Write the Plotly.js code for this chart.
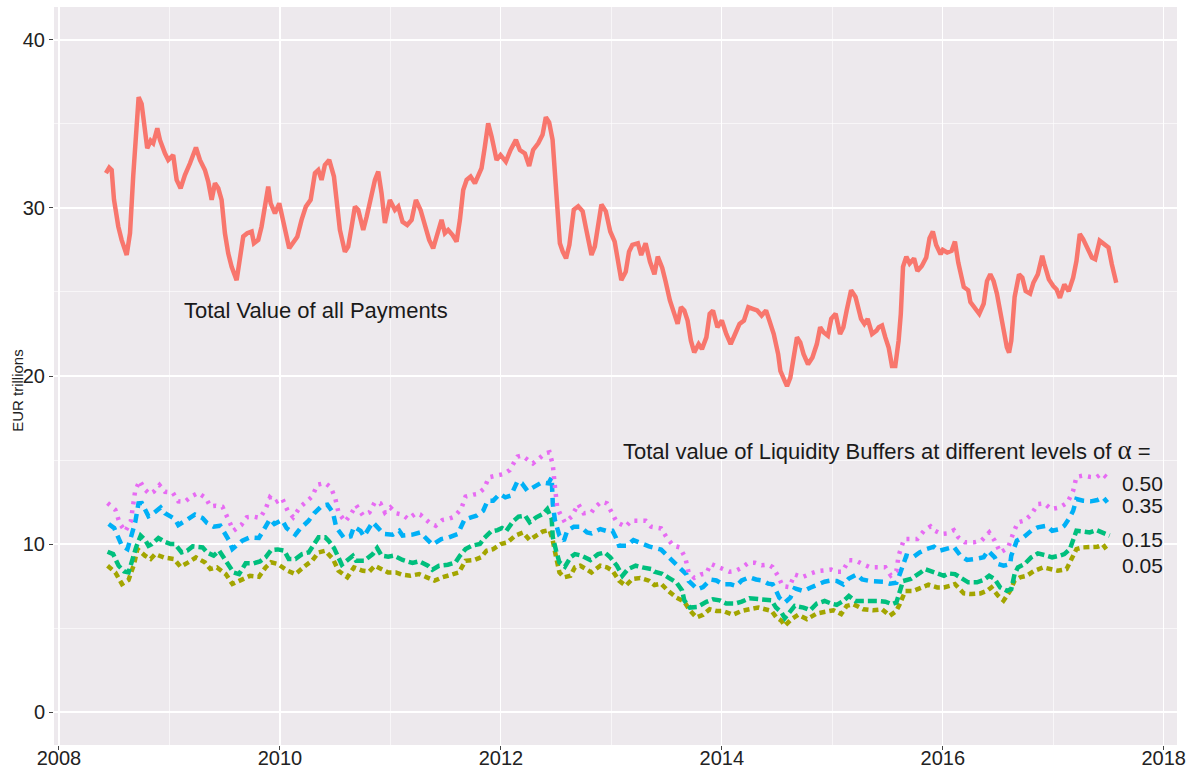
<!DOCTYPE html>
<html>
<head>
<meta charset="utf-8">
<script src="https://cdn.plot.ly/plotly-3.0.1.min.js"></script>
<style>html,body{margin:0;padding:0;background:#fff;}#chart{width:1188px;height:769px;}</style>
</head>
<body>
<div id="chart"></div>
<script>
// ---- DATA (decimal years, EUR trillions) ----
const totalYears = [2008.425,2008.455,2008.477,2008.498,2008.537,2008.567,2008.613,2008.643,2008.672,2008.697,2008.721,2008.748,2008.778,2008.799,2008.830,2008.853,2008.890,2008.914,2008.959,2008.989,2009.034,2009.065,2009.101,2009.140,2009.186,2009.240,2009.276,2009.321,2009.351,2009.382,2009.412,2009.442,2009.472,2009.502,2009.532,2009.563,2009.608,2009.638,2009.668,2009.704,2009.744,2009.765,2009.804,2009.834,2009.864,2009.894,2009.916,2009.955,2009.994,2010.024,2010.054,2010.084,2010.120,2010.157,2010.196,2010.235,2010.278,2010.317,2010.347,2010.377,2010.407,2010.446,2010.489,2010.513,2010.543,2010.588,2010.618,2010.649,2010.679,2010.709,2010.754,2010.785,2010.830,2010.860,2010.890,2010.920,2010.950,2010.995,2011.041,2011.071,2011.110,2011.152,2011.192,2011.231,2011.273,2011.312,2011.351,2011.387,2011.424,2011.463,2011.493,2011.523,2011.563,2011.599,2011.629,2011.659,2011.690,2011.726,2011.765,2011.795,2011.825,2011.855,2011.885,2011.916,2011.961,2011.997,2012.045,2012.088,2012.136,2012.172,2012.217,2012.256,2012.292,2012.338,2012.377,2012.407,2012.437,2012.468,2012.504,2012.534,
2012.56,2012.59,2012.62,2012.66,2012.70,2012.74,2012.77,2012.79,2012.82,2012.85,2012.88,2012.91,2012.95,2012.99,2013.03,2013.06,2013.09,2013.13,2013.16,2013.19,2013.24,2013.27,2013.31,2013.35,2013.39,2013.42,2013.46,2013.49,2013.53,2013.57,2013.60,2013.63,2013.66,2013.69,2013.72,2013.75,2013.79,2013.82,2013.86,2013.89,2013.92,2013.96,2014.00,2014.04,2014.08,2014.12,2014.16,2014.20,2014.24,2014.28,2014.32,2014.36,2014.40,2014.43,2014.47,2014.51,2014.53,2014.57,2014.59,2014.62,2014.65,2014.68,2014.71,2014.74,2014.78,2014.82,2014.86,2014.89,2014.92,2014.96,2014.99,2015.03,2015.07,2015.10,2015.13,2015.17,2015.21,2015.24,2015.26,2015.29,2015.32,2015.36,2015.40,2015.42,2015.45,2015.48,2015.51,2015.54,2015.57,2015.60,2015.62,2015.64,2015.67,2015.70,2015.74,2015.77,2015.81,2015.85,2015.88,2015.91,2015.94,2015.98,2016.00,2016.04,2016.08,2016.11,2016.14,2016.19,2016.23,2016.25,2016.29,2016.33,2016.37,2016.40,2016.43,2016.46,2016.49,2016.52,2016.55,2016.58,2016.60,2016.62,2016.65,2016.69,2016.72,2016.75,2016.79,2016.82,2016.86,2016.90,2016.92,2016.96,2017.00,2017.03,2017.06,2017.10,2017.14,2017.18,2017.21,2017.24,2017.27,2017.31,2017.35,2017.38,2017.42,2017.46,2017.50,2017.53,2017.56,2017.57];
const totalValues = [32.07,32.4,32.26,30.5,28.9,28.1,27.2,28.5,31.9,34.8,36.6,36.2,34.8,33.55,34.0,33.85,34.74,34.05,33.25,32.86,33.15,31.67,31.17,31.96,32.66,33.6,32.86,32.26,31.57,30.48,31.47,31.17,30.48,28.5,27.3,26.5,25.7,26.9,28.3,28.5,28.6,27.9,28.1,28.9,30.3,31.27,30.28,29.68,30.28,29.48,28.5,27.6,28.0,28.29,29.29,30.08,30.48,32.07,32.26,31.67,32.56,32.86,31.87,30.28,28.69,27.4,27.7,28.89,30.08,29.88,28.69,29.48,30.67,31.67,32.16,30.87,29.1,30.48,29.88,30.08,29.18,28.99,29.29,30.48,29.88,29.09,28.1,27.6,28.5,29.29,28.5,28.69,28.39,28.0,29.29,31.07,31.67,31.87,31.47,31.87,32.37,33.65,35.04,34.25,32.86,33.15,32.76,33.45,34.05,33.45,33.25,32.5,33.45,33.85,34.35,35.4,35.1,34.05,30.87,27.9,
27.4,27.0,27.8,29.9,30.1,29.8,28.8,28.0,27.2,27.7,28.8,30.2,29.8,28.6,28.0,27.0,25.7,26.2,27.4,27.8,27.9,27.2,27.9,26.8,26.05,27.1,26.45,25.65,24.5,23.7,23.1,24.1,23.9,23.3,22.1,21.4,21.9,21.6,22.3,23.7,23.9,22.9,23.3,22.5,21.9,22.5,23.1,23.3,24.1,24.0,23.9,23.6,23.9,23.3,22.5,21.3,20.3,19.7,19.4,19.9,21.3,22.3,22.0,21.3,20.7,21.1,21.9,22.9,22.6,22.4,23.4,23.7,22.5,22.9,23.9,25.1,24.7,23.9,23.4,23.1,23.4,22.5,22.7,22.9,23.0,22.3,21.7,20.6,20.6,22.1,23.7,26.5,27.1,26.7,27.0,26.25,26.55,27.05,28.2,28.6,27.8,27.25,27.5,27.35,27.45,28.0,26.75,25.3,25.1,24.4,24.1,23.7,24.3,25.65,26.05,25.65,24.9,23.7,22.5,21.7,21.4,22.1,24.7,26.05,25.85,25.05,24.9,25.55,26.05,27.15,26.65,25.75,25.35,25.15,24.65,25.45,25.05,25.85,26.85,28.45,28.15,27.65,27.05,26.95,28.05,27.85,27.65,26.65,25.95,25.55];

const a050Years = [2008.44,2008.51,2008.55,2008.60,2008.65,2008.69,2008.73,2008.78,2008.82,2008.86,2008.91,2008.96,2009.03,2009.08,2009.14,2009.20,2009.26,2009.33,2009.37,2009.42,2009.48,2009.53,2009.58,2009.65,2009.70,2009.76,2009.82,2009.87,2009.91,2009.96,2010.02,2010.07,2010.12,2010.18,2010.24,2010.29,2010.34,2010.41,2010.46,2010.50,2010.53,2010.59,2010.64,2010.69,2010.75,2010.81,2010.86,2010.91,2010.95,2011.00,2011.05,2011.11,2011.16,2011.23,2011.27,2011.35,2011.41,2011.47,2011.52,2011.58,2011.64,2011.68,2011.75,2011.79,2011.85,2011.89,2011.96,2012.03,2012.08,2012.15,2012.19,2012.24,2012.29,2012.34,2012.40,2012.44,2012.47,2012.49,2012.51,2012.53,2012.58,2012.64,2012.70,2012.75,2012.82,2012.85,2012.91,2012.96,2013.00,2013.05,2013.13,2013.18,2013.25,2013.31,2013.36,2013.40,2013.45,2013.50,2013.56,2013.62,2013.67,2013.70,2013.75,2013.81,2013.86,2013.90,2013.95,2014.01,2014.07,2014.12,2014.18,2014.24,2014.30,2014.36,2014.42,2014.46,2014.51,2014.55,2014.61,2014.66,2014.73,2014.80,2014.87,2014.93,2014.99,2015.04,2015.09,2015.15,2015.21,2015.27,2015.34,2015.40,2015.48,2015.53,2015.58,2015.60,2015.65,2015.71,2015.77,2015.83,2015.89,2015.93,2015.99,2016.04,2016.10,2016.14,2016.20,2016.28,2016.35,2016.42,2016.47,2016.52,2016.59,2016.64,2016.68,2016.74,2016.80,2016.86,2016.92,2016.98,2017.06,2017.13,2017.18,2017.21,2017.27,2017.33,2017.39,2017.44,2017.50];
const a050Values = [12.44,12.04,11.23,10.75,11.35,13.17,13.77,13.23,12.98,13.13,13.51,13.11,13.06,12.54,12.52,12.84,13.04,12.74,12.24,12.28,12.22,11.49,10.79,11.13,11.59,11.63,11.55,12.08,12.78,12.48,12.72,11.98,11.59,12.18,12.52,12.82,13.53,13.63,13.37,12.74,11.88,11.33,11.75,12.32,11.71,11.88,12.50,12.42,11.88,12.18,11.83,11.75,11.49,11.83,11.75,11.29,11.09,11.43,11.49,11.63,12.08,12.82,12.94,12.98,13.31,13.97,14.07,14.17,14.40,15.20,15.26,15.02,14.80,15.06,15.40,15.46,14.72,13.37,12.18,11.88,11.29,11.63,12.38,11.83,11.88,12.18,12.52,12.42,11.94,11.29,11.03,11.39,11.39,11.39,11.03,10.99,10.93,10.40,9.90,9.80,9.17,8.29,7.99,8.19,8.25,8.82,8.68,8.58,8.35,8.39,8.58,8.88,8.88,8.74,8.78,8.62,8.09,7.50,7.44,8.19,8.03,8.23,8.39,8.43,8.48,8.35,8.35,9.04,9.02,8.82,8.62,8.62,8.62,8.13,8.39,9.31,10.30,10.30,10.30,10.79,11.05,10.79,10.60,10.63,10.83,10.40,10.10,10.10,10.20,10.69,10.20,9.50,9.76,10.69,11.29,11.39,11.75,12.38,12.42,12.08,12.18,12.48,13.17,14.00,14.07,14.00,13.97,14.20,13.87];

const a035Years = [2008.45,2008.50,2008.57,2008.62,2008.66,2008.69,2008.72,2008.75,2008.81,2008.84,2008.92,2008.96,2009.05,2009.08,2009.16,2009.23,2009.30,2009.34,2009.40,2009.46,2009.54,2009.57,2009.66,2009.73,2009.81,2009.84,2009.91,2009.95,2010.02,2010.06,2010.14,2010.18,2010.26,2010.31,2010.38,2010.43,2010.48,2010.51,2010.58,2010.64,2010.67,2010.73,2010.76,2010.84,2010.94,2011.02,2011.08,2011.11,2011.20,2011.27,2011.33,2011.38,2011.46,2011.53,2011.61,2011.67,2011.73,2011.78,2011.84,2011.88,2011.93,2011.99,2012.04,2012.09,2012.15,2012.19,2012.24,2012.31,2012.37,2012.43,2012.46,2012.47,2012.49,2012.53,2012.57,2012.60,2012.66,2012.72,2012.78,2012.82,2012.90,2012.95,2013.01,2013.04,2013.07,2013.14,2013.20,2013.25,2013.34,2013.45,2013.49,2013.57,2013.60,2013.68,2013.70,2013.78,2013.83,2013.90,2013.95,2014.01,2014.08,2014.13,2014.18,2014.25,2014.31,2014.37,2014.42,2014.46,2014.49,2014.52,2014.57,2014.62,2014.66,2014.74,2014.80,2014.87,2014.93,2014.99,2015.04,2015.10,2015.15,2015.22,2015.27,2015.34,2015.40,2015.46,2015.52,2015.58,2015.61,2015.64,2015.67,2015.73,2015.79,2015.85,2015.92,2015.97,2016.04,2016.10,2016.16,2016.22,2016.29,2016.37,2016.41,2016.47,2016.50,2016.55,2016.61,2016.62,2016.67,2016.73,2016.80,2016.86,2016.94,2016.99,2017.06,2017.10,2017.15,2017.18,2017.21,2017.27,2017.34,2017.40,2017.45,2017.49];
const a035Values = [11.19,10.95,9.90,9.70,10.60,11.29,12.42,12.44,11.65,11.75,12.18,11.83,11.49,11.13,11.45,11.75,11.55,11.25,11.03,11.09,10.20,9.70,10.20,10.40,10.36,10.69,11.49,11.19,11.43,10.95,10.56,10.89,11.39,11.83,12.28,12.34,11.88,10.99,10.36,10.46,11.03,10.79,10.46,11.30,10.60,10.56,10.79,10.50,10.56,10.69,10.24,9.96,10.30,10.40,10.60,11.45,11.59,11.69,11.98,12.58,12.58,12.98,12.78,12.88,13.73,13.61,13.17,13.47,13.67,13.61,13.97,12.38,11.39,10.50,10.20,10.79,11.03,11.03,10.69,10.63,10.89,10.79,10.79,10.40,9.90,9.90,10.24,10.10,9.86,9.67,9.41,8.94,8.68,8.19,7.80,7.30,7.44,7.89,7.83,7.60,7.60,7.50,7.83,8.03,7.89,7.83,7.64,7.60,7.24,6.81,6.52,6.81,7.36,7.20,7.40,7.60,7.76,7.83,7.80,7.60,7.95,8.19,7.89,7.80,7.76,7.76,7.64,7.70,8.19,8.71,9.31,9.21,9.50,9.70,9.84,9.60,9.70,9.84,9.31,9.05,9.11,9.21,9.60,9.21,8.81,8.71,8.81,9.31,10.20,10.40,10.79,10.99,11.09,10.79,10.89,11.09,11.59,11.98,12.68,12.58,12.54,12.62,12.78,12.48];

const a015Years = [2008.44,2008.49,2008.54,2008.59,2008.63,2008.66,2008.70,2008.74,2008.78,2008.81,2008.84,2008.90,2008.95,2009.01,2009.05,2009.11,2009.16,2009.21,2009.30,2009.34,2009.40,2009.45,2009.49,2009.54,2009.58,2009.63,2009.69,2009.76,2009.82,2009.87,2009.92,2009.98,2010.04,2010.08,2010.14,2010.20,2010.26,2010.30,2010.35,2010.41,2010.44,2010.49,2010.53,2010.56,2010.66,2010.69,2010.76,2010.84,2010.88,2010.92,2010.98,2011.03,2011.11,2011.20,2011.26,2011.34,2011.38,2011.44,2011.52,2011.59,2011.63,2011.68,2011.74,2011.81,2011.85,2011.91,2011.97,2012.01,2012.05,2012.11,2012.16,2012.22,2012.26,2012.32,2012.38,2012.42,2012.46,2012.47,2012.50,2012.53,2012.58,2012.63,2012.67,2012.73,2012.81,2012.88,2012.94,2012.99,2013.05,2013.10,2013.15,2013.22,2013.28,2013.36,2013.39,2013.46,2013.52,2013.59,2013.64,2013.66,2013.71,2013.78,2013.86,2013.92,2013.98,2014.04,2014.12,2014.18,2014.25,2014.33,2014.39,2014.45,2014.49,2014.54,2014.57,2014.62,2014.66,2014.74,2014.80,2014.86,2014.93,2014.99,2015.04,2015.10,2015.15,2015.21,2015.28,2015.36,2015.42,2015.48,2015.54,2015.58,2015.61,2015.64,2015.71,2015.75,2015.80,2015.84,2015.89,2015.95,2016.01,2016.05,2016.11,2016.16,2016.23,2016.31,2016.37,2016.42,2016.47,2016.52,2016.58,2016.62,2016.65,2016.68,2016.74,2016.80,2016.86,2016.94,2016.99,2017.06,2017.10,2017.15,2017.18,2017.21,2017.27,2017.33,2017.39,2017.45,2017.51];
const a015Values = [9.54,9.40,8.71,8.37,8.31,9.00,9.84,10.50,10.24,9.90,10.00,10.36,10.16,10.00,10.00,9.50,9.60,9.86,9.80,9.50,9.31,9.60,9.17,8.65,8.31,8.21,8.85,8.85,8.97,9.21,9.64,9.68,9.60,9.11,9.11,9.40,9.50,9.90,10.40,10.40,10.20,9.76,9.11,8.77,9.30,9.00,9.00,9.40,9.76,9.31,9.25,9.31,9.05,8.87,8.97,8.71,8.47,8.71,8.77,8.91,9.31,9.70,9.90,10.00,10.36,10.75,10.83,10.95,10.79,11.35,11.63,11.69,11.29,11.59,11.79,12.08,11.49,10.40,9.60,8.91,8.65,9.21,9.40,9.31,9.05,9.40,9.50,9.21,8.71,8.11,8.51,8.71,8.61,8.51,8.35,8.23,7.99,7.70,7.24,6.65,6.22,6.26,6.56,6.71,6.65,6.46,6.46,6.57,6.77,6.71,6.65,6.65,6.22,5.93,5.59,6.02,6.32,6.22,6.06,6.46,6.61,6.46,6.38,6.61,6.91,6.61,6.61,6.65,6.61,6.57,6.42,6.52,7.20,7.80,7.92,8.06,8.31,8.51,8.37,8.25,8.11,8.25,8.21,8.02,7.72,7.72,7.86,8.11,7.92,7.42,7.22,7.32,8.21,8.61,8.81,9.21,9.44,9.31,9.21,9.31,9.40,9.70,10.20,10.79,10.75,10.69,10.83,10.69,10.50];

const a005Years = [2008.44,2008.51,2008.57,2008.63,2008.68,2008.71,2008.78,2008.83,2008.87,2008.95,2009.04,2009.10,2009.17,2009.24,2009.32,2009.37,2009.43,2009.51,2009.57,2009.66,2009.73,2009.81,2009.87,2009.92,2009.98,2010.07,2010.14,2010.23,2010.29,2010.35,2010.41,2010.48,2010.53,2010.61,2010.67,2010.75,2010.81,2010.86,2010.92,2010.98,2011.05,2011.11,2011.18,2011.26,2011.33,2011.40,2011.47,2011.55,2011.62,2011.68,2011.76,2011.82,2011.87,2011.93,2012.00,2012.06,2012.13,2012.20,2012.26,2012.32,2012.38,2012.44,2012.47,2012.50,2012.53,2012.57,2012.63,2012.67,2012.72,2012.82,2012.90,2012.96,2013.01,2013.07,2013.13,2013.19,2013.26,2013.34,2013.39,2013.45,2013.51,2013.59,2013.66,2013.71,2013.77,2013.83,2013.89,2013.95,2014.01,2014.10,2014.18,2014.25,2014.33,2014.39,2014.45,2014.49,2014.54,2014.57,2014.63,2014.69,2014.77,2014.86,2014.93,2015.01,2015.08,2015.13,2015.19,2015.28,2015.37,2015.45,2015.52,2015.58,2015.61,2015.66,2015.73,2015.81,2015.87,2015.95,2016.01,2016.07,2016.11,2016.19,2016.26,2016.34,2016.40,2016.44,2016.50,2016.55,2016.61,2016.65,2016.70,2016.76,2016.83,2016.91,2016.97,2017.04,2017.12,2017.16,2017.21,2017.27,2017.34,2017.40,2017.45,2017.48];
const a005Values = [8.71,8.31,7.62,7.86,8.81,9.70,9.30,9.11,9.40,9.20,9.11,8.65,8.91,9.20,8.91,8.51,8.61,8.21,7.62,7.92,8.11,8.05,8.61,8.91,8.81,8.41,8.21,8.71,9.00,9.50,9.60,9.11,8.41,8.02,8.61,8.41,8.37,8.71,8.51,8.31,8.31,8.17,8.11,8.21,8.02,7.82,8.02,8.17,8.31,9.00,9.05,9.21,9.60,9.70,10.00,10.10,10.50,10.69,10.24,10.50,10.75,10.83,10.20,9.21,8.31,8.02,8.11,8.61,8.71,8.31,8.71,8.61,8.41,7.82,7.52,7.92,7.98,7.82,7.56,7.64,7.24,6.81,6.57,6.06,5.63,5.79,6.12,6.02,6.02,5.79,6.02,6.12,6.22,6.12,6.02,5.67,5.43,5.14,5.53,5.79,5.53,5.87,5.93,6.06,5.83,6.32,6.42,6.12,6.06,6.12,5.73,6.02,6.42,7.20,7.20,7.42,7.58,7.42,7.42,7.52,7.62,7.06,7.02,7.06,7.22,7.42,6.93,6.63,7.22,7.82,8.02,8.11,8.41,8.61,8.51,8.41,8.51,9.11,9.70,9.80,9.80,9.84,9.96,9.70];

const seriesNames = ['Total Value of all Payments','0.05','0.15','0.35','0.50'];
const seriesColors = ['#F8766D','#A3A500','#00BF7D','#00B0F6','#E76BF3'];
const alphaLabels = ['0.50','0.35','0.15','0.05'];
const alphaLabelY = [13.6,12.3,10.25,8.75];
const xTickVals = [2008,2010,2012,2014,2016,2018];

const FONT = 'Liberation Sans, Arial, sans-serif';
const traces = [
  {x: totalYears, y: totalValues, name: seriesNames[0], mode:'lines', line:{color:seriesColors[0], width:4.5}},
  {x: a005Years, y: a005Values, name: seriesNames[1], mode:'lines', line:{color:seriesColors[1], width:4.5, dash:'6px,4px'}},
  {x: a015Years, y: a015Values, name: seriesNames[2], mode:'lines', line:{color:seriesColors[2], width:4.5, dash:'9px,4px'}},
  {x: a035Years, y: a035Values, name: seriesNames[3], mode:'lines', line:{color:seriesColors[3], width:4.5, dash:'9px,6px'}},
  {x: a050Years, y: a050Values, name: seriesNames[4], mode:'lines', line:{color:seriesColors[4], width:4.5, dash:'3px,6px'}}
];

const annotations = [
  {x:2009.11, y:23.9, xref:'x', yref:'y', xanchor:'left', yanchor:'middle', showarrow:false,
   text:'Total Value of all Payments', font:{family:FONT, size:22, color:'#1a1a1a'}},
  {x:2013.09, y:15.6, xref:'x', yref:'y', xanchor:'left', yanchor:'middle', showarrow:false,
   text:'Total value of Liquidity Buffers at different levels of <span style="font-family:Liberation Serif;font-size:27px">α</span> =', font:{family:FONT, size:22, color:'#1a1a1a'}},
  {x:-0.032, y:0.48, xref:'paper', yref:'paper', xanchor:'center', yanchor:'middle', showarrow:false, textangle:-90,
   text:'EUR trillions', font:{family:FONT, size:15, color:'#222'}}
];
alphaLabels.forEach((t,i)=>annotations.push({x:2017.6, y:alphaLabelY[i], xref:'x', yref:'y', xanchor:'left', yanchor:'middle', showarrow:false, text:t, font:{family:FONT, size:21, color:'#1a1a1a'}}));

const layout = {
  width:1188, height:769,
  margin:{l:54, r:11, t:7, b:24, pad:0},
  paper_bgcolor:'#ffffff', plot_bgcolor:'#EDE9ED',
  showlegend:false,
  font:{family:FONT, color:'#222'},
  xaxis:{range:[2007.955,2018.12], tickvals:xTickVals, ticktext:xTickVals.map(String),
    ticks:'outside', ticklen:4, tickwidth:1, tickcolor:'#444', ticklabelstandoff:-9,
    showgrid:true, gridcolor:'#ffffff', gridwidth:1.2, zeroline:false, showline:false,
    tickfont:{size:20, color:'#222'},
    minor:{dtick:1, tick0:2009, showgrid:true, gridcolor:'#ffffff', gridwidth:0.6, ticks:''}},
  yaxis:{range:[-1.96,41.96], tick0:0, dtick:10,
    ticks:'outside', ticklen:4, tickwidth:1, tickcolor:'#444',
    showgrid:true, gridcolor:'#ffffff', gridwidth:1.2, zeroline:false, showline:false,
    tickfont:{size:20, color:'#222'},
    minor:{dtick:5, tick0:5, showgrid:true, gridcolor:'#ffffff', gridwidth:0.6, ticks:''}},
  annotations: annotations
};

Plotly.newPlot('chart', traces, layout, {displayModeBar:false, staticPlot:true});
</script>
</body>
</html>
